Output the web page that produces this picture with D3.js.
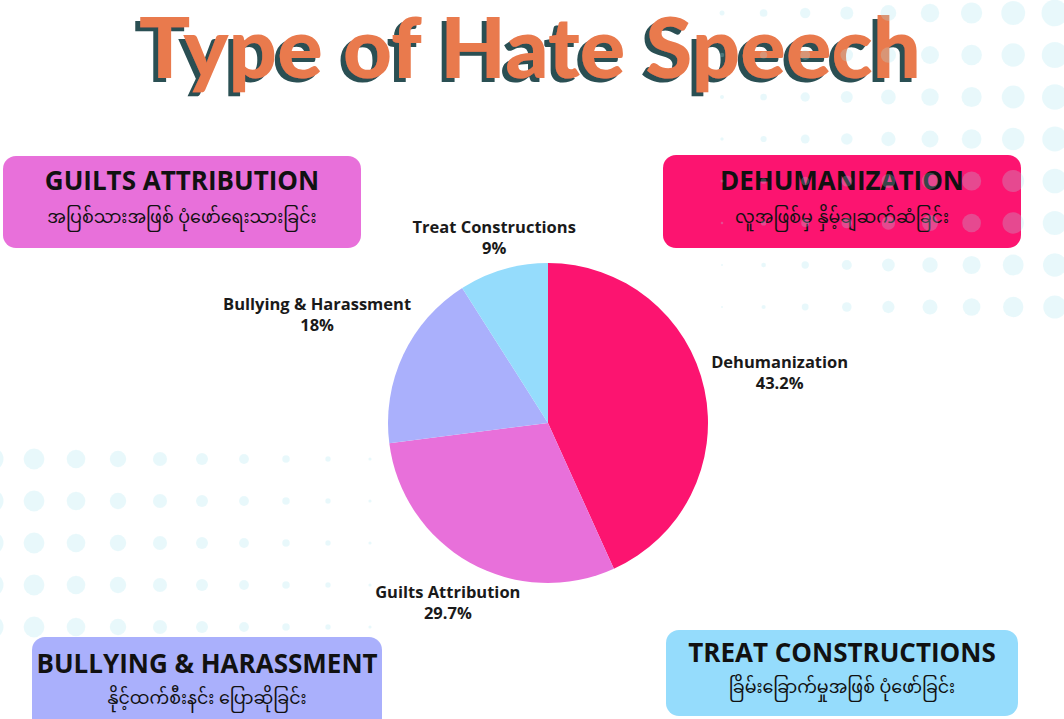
<!DOCTYPE html>
<html>
<head>
<meta charset="utf-8">
<script src="https://cdn.jsdelivr.net/npm/d3@7"></script>
<style>
  html, body { margin: 0; padding: 0; background: #ffffff; }
  svg { display: block; }
</style>
</head>
<body>
<svg id="chart" width="1064" height="719"></svg>
<script>
// ---------- data ----------
const categories = ["Dehumanization", "Guilts Attribution", "Bullying & Harassment", "Treat Constructions"];
const values = [43.2, 29.7, 18, 9];
const valueLabels = ["43.2%", "29.7%", "18%", "9%"];
const sliceColors = ["#fc1470", "#e870da", "#aab0fc", "#95dcfc"];
const boxTitles = ["DEHUMANIZATION", "GUILTS ATTRIBUTION", "BULLYING & HARASSMENT", "TREAT CONSTRUCTIONS"];
const boxSubtitles = [
  "လူအဖြစ်မှ နှိမ့်ချဆက်ဆံခြင်း",
  "အပြစ်သားအဖြစ် ပုံဖော်ရေးသားခြင်း",
  "နိုင့်ထက်စီးနင်း ပြောဆိုခြင်း",
  "ခြိမ်းခြောက်မှုအဖြစ် ပုံဖော်ခြင်း"
];
const titleText = "Type of Hate Speech";

// ---------- layout ----------
const W = 1064, H = 719;
const svg = d3.select("#chart");
const cx = 548, cy = 423, R = 160;

const boxLayout = [
  {x: 663, y: 155, w: 358, h: 93, tb: 190, sb: 223},
  {x: 3,   y: 156, w: 358, h: 92, tb: 190, sb: 223},
  {x: 32,  y: 637, w: 350, h: 100, tb: 673, sb: 704},
  {x: 666, y: 630, w: 352, h: 86, tb: 662, sb: 693}
];

// shadow filter for the title
const defs = svg.append("defs");
const f = defs.append("filter").attr("id", "tshadow")
  .attr("x", "-5%").attr("y", "-20%").attr("width", "110%").attr("height", "140%");
f.append("feOffset").attr("in", "SourceAlpha").attr("dx", -5).attr("dy", 4).attr("result", "off");
f.append("feFlood").attr("flood-color", "#2b4f53").attr("result", "col");
f.append("feComposite").attr("in", "col").attr("in2", "off").attr("operator", "in").attr("result", "sh");
const fm = f.append("feMerge");
fm.append("feMergeNode").attr("in", "sh");
fm.append("feMergeNode").attr("in", "SourceGraphic");

// ---------- title ----------
svg.append("text")
  .attr("x", 139).attr("y", 78)
  .attr("textLength", 782).attr("lengthAdjust", "spacingAndGlyphs")
  .attr("font-family", "Lato, Inter, sans-serif")
  .attr("font-size", 84)
  .attr("font-weight", 900)
  .attr("fill", "#e97a4d")
  .attr("filter", "url(#tshadow)")
  .text(titleText);

// ---------- boxes ----------
const boxG = svg.append("g");
categories.forEach((c, i) => {
  const b = boxLayout[i];
  boxG.append("rect")
    .attr("x", b.x).attr("y", b.y).attr("width", b.w).attr("height", b.h)
    .attr("rx", 13).attr("fill", sliceColors[i]);
  boxG.append("text")
    .attr("x", b.x + b.w / 2).attr("y", b.tb)
    .attr("text-anchor", "middle")
    .attr("font-family", "'Open Sans', sans-serif")
    .attr("font-weight", 700).attr("font-size", 26)
    .attr("fill", "#111111")
    .text(boxTitles[i]);
  boxG.append("text")
    .attr("x", b.x + b.w / 2).attr("y", b.sb)
    .attr("text-anchor", "middle")
    .attr("font-family", "'Noto Sans Myanmar', 'Padauk', 'Myanmar Text', 'Noto Sans', sans-serif")
    .attr("font-size", 17.5)
    .attr("fill", "#111111")
    .text(boxSubtitles[i]);
});

// ---------- pie ----------
const pie = d3.pie().sort(null).value(d => d.value);
const arcs = pie(categories.map((c, i) => ({name: c, value: values[i], label: valueLabels[i], color: sliceColors[i]})));
const arc = d3.arc().innerRadius(0).outerRadius(R);
const pieG = svg.append("g").attr("transform", `translate(${cx},${cy})`);
pieG.selectAll("path").data(arcs).join("path")
  .attr("d", arc)
  .attr("fill", d => d.data.color);

// labels along the slice mid-angle, pushed outward by half their width
const lineGap = 21, labelSize = 16.5, capH = labelSize * 0.714;
arcs.forEach(d => {
  const g = pieG.append("g");
  const t1 = g.append("text").attr("text-anchor", "middle")
    .attr("font-family", "'Open Sans', sans-serif").attr("font-weight", 700)
    .attr("font-size", labelSize).attr("fill", "#1a1a1a").text(d.data.name);
  const t2 = g.append("text").attr("text-anchor", "middle").attr("y", lineGap)
    .attr("font-family", "'Open Sans', sans-serif").attr("font-weight", 700)
    .attr("font-size", labelSize).attr("fill", "#1a1a1a").text(d.data.label);
  const w = Math.max(t1.node().getComputedTextLength(), t2.node().getComputedTextLength());
  const a = (d.startAngle + d.endAngle) / 2;
  const s = Math.sin(a), c = -Math.cos(a);
  const r = R + 10 + (w / 2) * Math.abs(s);
  const px = s * r, py = c * r;
  const b1 = py - (lineGap - capH) / 2;
  g.attr("transform", `translate(${px},${b1})`);
});

// ---------- decorative dot grids (translucent, over everything) ----------
const dotG = svg.append("g").attr("fill", "#a8e6f0").attr("opacity", 0.25);
const trCols = d3.range(9), trRows = d3.range(8);
trRows.forEach(j => trCols.forEach(i => {
  dotG.append("circle")
    .attr("cx", 722 + 41.6 * i).attr("cy", 13 + 42 * j)
    .attr("r", Math.max(1, 2.5 + 1.35 * i - 0.25 * j));
}));
const blCols = d3.range(10), blRows = d3.range(5);
blRows.forEach(j => blCols.forEach(i => {
  dotG.append("circle")
    .attr("cx", -8 + 42 * i).attr("cy", 459 + 42 * j)
    .attr("r", Math.max(1, 11.5 - 1.1 * i));
}));
</script>
</body>
</html>
